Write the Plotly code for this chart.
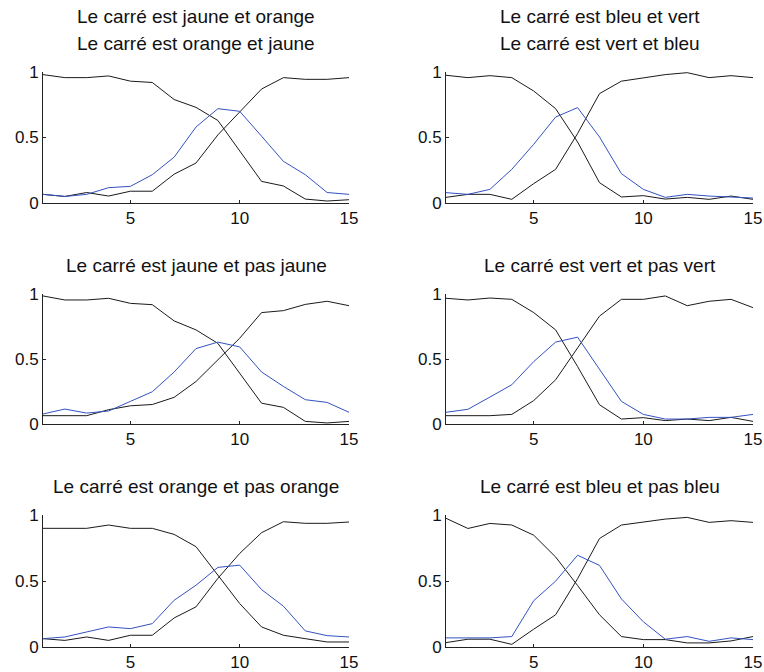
import plotly.graph_objects as go

x_vals = list(range(1, 16))

titles = [
    ["Le carré est jaune et orange", "Le carré est orange et jaune"],
    ["Le carré est bleu et vert", "Le carré est vert et bleu"],
    ["Le carré est jaune et pas jaune"],
    ["Le carré est vert et pas vert"],
    ["Le carré est orange et pas orange"],
    ["Le carré est bleu et pas bleu"],
]

# Panel 1: jaune / orange
p1_dec = [0.98, 0.957, 0.957, 0.97, 0.93, 0.92, 0.79, 0.73, 0.63, 0.40, 0.165, 0.13, 0.03, 0.015, 0.025]
p1_inc = [0.066, 0.05, 0.08, 0.053, 0.09, 0.09, 0.22, 0.305, 0.52, 0.695, 0.87, 0.957, 0.944, 0.944, 0.957]
p1_blue = [0.066, 0.05, 0.066, 0.117, 0.127, 0.216, 0.35, 0.58, 0.72, 0.70, 0.51, 0.318, 0.216, 0.08, 0.066]

# Panel 2: bleu / vert
p2_dec = [0.975, 0.957, 0.972, 0.957, 0.855, 0.72, 0.466, 0.155, 0.046, 0.056, 0.03, 0.043, 0.028, 0.053, 0.028]
p2_inc = [0.043, 0.066, 0.066, 0.028, 0.148, 0.257, 0.53, 0.835, 0.93, 0.957, 0.98, 0.995, 0.957, 0.972, 0.957]
p2_blue = [0.079, 0.066, 0.104, 0.257, 0.448, 0.656, 0.728, 0.504, 0.224, 0.104, 0.043, 0.066, 0.053, 0.043, 0.038]

# Panel 3: jaune / pas jaune
p3_dec = [0.985, 0.954, 0.954, 0.967, 0.928, 0.918, 0.793, 0.724, 0.62, 0.39, 0.16, 0.128, 0.02, 0.008, 0.02]
p3_inc = [0.064, 0.064, 0.064, 0.11, 0.14, 0.15, 0.205, 0.327, 0.49, 0.66, 0.857, 0.872, 0.92, 0.944, 0.91]
p3_blue = [0.077, 0.115, 0.084, 0.10, 0.174, 0.248, 0.40, 0.58, 0.63, 0.593, 0.40, 0.289, 0.187, 0.166, 0.09]

# Panel 4: vert / pas vert
p4_dec = [0.967, 0.954, 0.969, 0.959, 0.857, 0.724, 0.442, 0.148, 0.038, 0.049, 0.026, 0.038, 0.026, 0.051, 0.02]
p4_inc = [0.064, 0.064, 0.064, 0.074, 0.18, 0.34, 0.583, 0.83, 0.959, 0.959, 0.985, 0.91, 0.944, 0.959, 0.895]
p4_blue = [0.09, 0.113, 0.207, 0.302, 0.48, 0.63, 0.668, 0.417, 0.174, 0.074, 0.038, 0.038, 0.051, 0.051, 0.074]

# Panel 5: orange / pas orange
p5_dec = [0.899, 0.899, 0.899, 0.924, 0.899, 0.899, 0.853, 0.76, 0.544, 0.329, 0.152, 0.089, 0.063, 0.038, 0.038]
p5_inc = [0.063, 0.05, 0.076, 0.05, 0.089, 0.089, 0.22, 0.304, 0.52, 0.709, 0.866, 0.949, 0.937, 0.937, 0.947]
p5_blue = [0.063, 0.076, 0.114, 0.152, 0.139, 0.177, 0.354, 0.468, 0.603, 0.62, 0.435, 0.309, 0.122, 0.086, 0.076]

# Panel 6: bleu / pas bleu
p6_dec = [0.975, 0.898, 0.936, 0.924, 0.847, 0.682, 0.466, 0.244, 0.079, 0.056, 0.056, 0.031, 0.031, 0.046, 0.079]
p6_inc = [0.033, 0.059, 0.059, 0.02, 0.135, 0.244, 0.517, 0.822, 0.924, 0.949, 0.969, 0.982, 0.944, 0.957, 0.944]
p6_blue = [0.069, 0.069, 0.069, 0.079, 0.351, 0.499, 0.695, 0.618, 0.364, 0.191, 0.059, 0.079, 0.043, 0.069, 0.056]

panels = [
    (p1_dec, p1_inc, p1_blue),
    (p2_dec, p2_inc, p2_blue),
    (p3_dec, p3_inc, p3_blue),
    (p4_dec, p4_inc, p4_blue),
    (p5_dec, p5_inc, p5_blue),
    (p6_dec, p6_inc, p6_blue),
]

W, H = 764, 672
col_px = [(43, 349), (446, 753)]
row_px = [(72, 203), (294, 424), (515, 647)]

BLACK = "#1a1a1a"
BLUE = "#3352c0"
FONT = "Liberation Sans, Arial, sans-serif"

fig = go.Figure()
layout = dict(
    width=W, height=H, autosize=False,
    margin=dict(l=0, r=0, t=0, b=0, autoexpand=False),
    paper_bgcolor="white", plot_bgcolor="white",
    showlegend=False,
    font=dict(family=FONT, size=17, color="#111"),
)
annotations = []

for i, (dec, inc, blue) in enumerate(panels):
    r, c = divmod(i, 2)
    n = i + 1
    xa = "x" if n == 1 else f"x{n}"
    ya = "y" if n == 1 else f"y{n}"
    for ys, col in ((dec, BLACK), (inc, BLACK), (blue, BLUE)):
        fig.add_trace(go.Scatter(x=x_vals, y=ys, mode="lines",
                                 line=dict(color=col, width=1),
                                 xaxis=xa, yaxis=ya, hoverinfo="skip",
                                 cliponaxis=False))
    x0, x1 = col_px[c]
    y0, y1 = row_px[r]
    common = dict(showline=True, linecolor="#222", linewidth=1, mirror=False,
                  ticks="inside", ticklen=3, tickcolor="#222", tickwidth=1,
                  showgrid=False, zeroline=False,
                  tickfont=dict(family=FONT, size=17, color="#111"))
    layout["xaxis" if n == 1 else f"xaxis{n}"] = dict(
        domain=[x0 / W, x1 / W], range=[1, 15], anchor=ya,
        tickvals=[5, 10, 15], ticktext=["5", "10", "15"], **common)
    layout["yaxis" if n == 1 else f"yaxis{n}"] = dict(
        domain=[1 - y1 / H, 1 - y0 / H], range=[0, 1], anchor=xa,
        tickvals=[0, 0.5, 1], ticktext=["0", "0.5", "1"], **common)
    lines = titles[i]
    cx = (x0 + x1) / 2 / W
    for k, t in enumerate(lines):
        offset = (len(lines) - 1 - k) * 27
        ypix = y0 - 29 - offset
        annotations.append(dict(
            text=t, x=cx, y=1 - ypix / H, xref="paper", yref="paper",
            xanchor="center", yanchor="middle", showarrow=False,
            font=dict(family=FONT, size=19, color="#111")))

layout["annotations"] = annotations
fig.update_layout(**layout)
fig.write_html(
    "out.html",
    config={"displayModeBar": False, "staticPlot": True},
    post_script="document.body.style.margin='0';document.body.style.overflow='hidden';",
)
